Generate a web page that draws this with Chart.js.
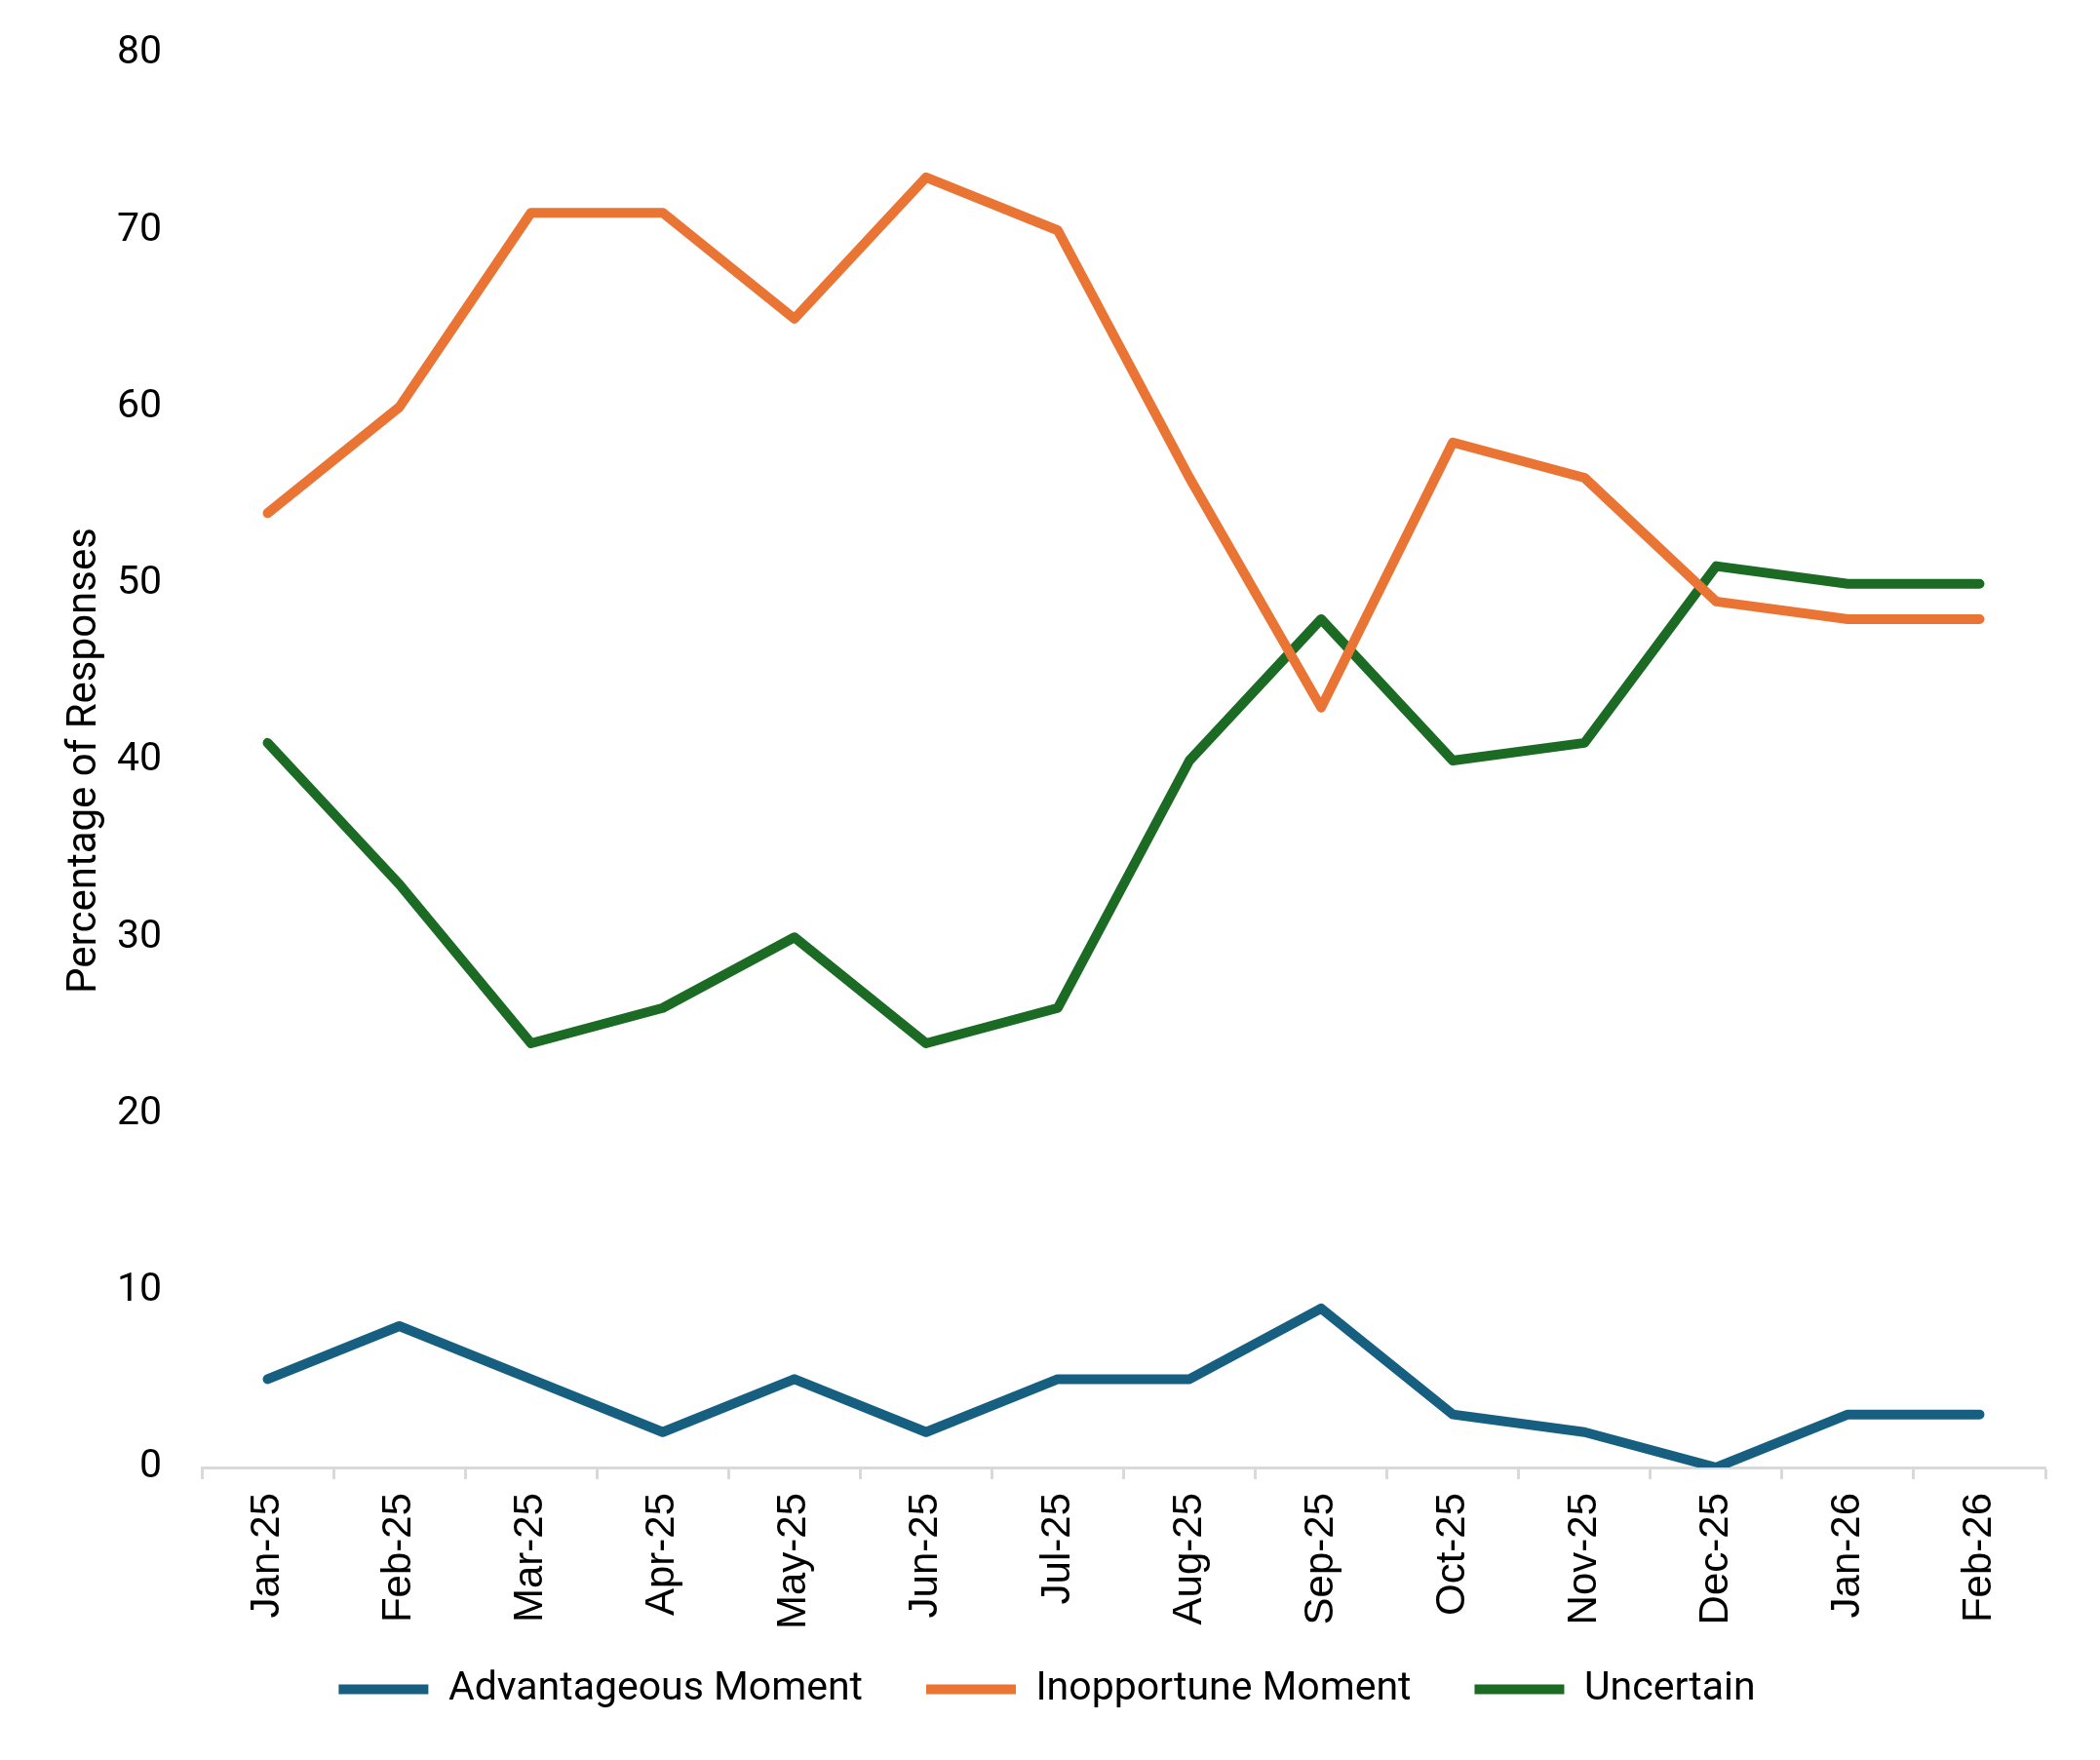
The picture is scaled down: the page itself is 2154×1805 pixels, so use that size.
<!DOCTYPE html>
<html>
<head>
<meta charset="utf-8">
<script src="https://cdn.jsdelivr.net/npm/chart.js@4.4.1/dist/chart.umd.min.js"></script>
<style>
    html, body { margin: 0; padding: 0; background: #ffffff; }
    #wrap { width: 2154px; height: 1805px; position: relative; }
</style>
</head>
<body>
<div id="wrap"><canvas id="sentimentChart"></canvas></div>
<script>
// Survey months
const months = ['Jan-25', 'Feb-25', 'Mar-25', 'Apr-25', 'May-25', 'Jun-25', 'Jul-25',
    'Aug-25', 'Sep-25', 'Oct-25', 'Nov-25', 'Dec-25', 'Jan-26', 'Feb-26'];

// Share of responses per answer (%)
const advantageous = [5, 8, 5, 2, 5, 2, 5, 5, 9, 3, 2, 0, 3, 3];
const inopportune = [54, 60, 71, 71, 65, 73, 70, 56, 43, 58, 56, 49, 48, 48];
const uncertain = [41, 33, 24, 26, 30, 24, 26, 40, 48, 40, 41, 51, 50, 50];

const seriesNames = ['Advantageous Moment', 'Inopportune Moment', 'Uncertain'];
const seriesColors = ['#175f81', '#e97434', '#1b6b25'];

const yTicks = { min: 0, max: 80, step: 10 };

const mainFont = 'Roboto, "Liberation Sans", sans-serif';
const labelFont = '"Liberation Sans", Arial, sans-serif';

function makeDataset(idx, values) {
    return {
        label: seriesNames[idx],
        data: values,
        borderColor: seriesColors[idx],
        backgroundColor: seriesColors[idx],
        borderWidth: 10,
        borderCapStyle: 'round',
        borderJoinStyle: 'round',
        pointRadius: 0,
        pointHoverRadius: 0,
        tension: 0,
        fill: false
    };
}

// Month labels hang below the x axis box; let them draw in full,
// and nudge the legend a little to the right like the original
const layoutTweaks = {
    id: 'layoutTweaks',
    afterLayout(chart) {
        chart.scales.x.bottom = chart.height;
        chart.legend.left += 25;
        chart.legend.right += 25;
    }
};

const ctx = document.getElementById('sentimentChart').getContext('2d');

new Chart(ctx, {
    type: 'line',
    data: {
        labels: months,
        datasets: [
            makeDataset(0, advantageous),
            makeDataset(1, inopportune),
            makeDataset(2, uncertain)
        ]
    },
    plugins: [layoutTweaks],
    options: {
        responsive: true,
        maintainAspectRatio: false,
        animation: false,
        layout: {
            padding: { top: 55, left: 0, right: 56, bottom: 42 }
        },
        plugins: {
            tooltip: { enabled: false },
            legend: {
                position: 'bottom',
                labels: {
                    color: '#000000',
                    font: { family: mainFont, size: 41 },
                    boxWidth: 92,
                    boxHeight: 10,
                    padding: 65,
                    useBorderRadius: true,
                    borderRadius: 5,
                    generateLabels: function(chart) {
                        return chart.data.datasets.map((ds, i) => ({
                            text: ds.label,
                            fillStyle: ds.borderColor,
                            strokeStyle: ds.borderColor,
                            lineWidth: 0,
                            fontColor: '#000000',
                            hidden: false,
                            datasetIndex: i
                        }));
                    }
                }
            }
        },
        scales: {
            x: {
                offset: true,
                grid: {
                    offset: true,
                    drawOnChartArea: false,
                    drawTicks: true,
                    tickLength: 12,
                    tickWidth: 3,
                    tickColor: '#d9d9d9'
                },
                border: { display: true, color: '#d9d9d9', width: 3 },
                ticks: {
                    color: '#000000',
                    font: { family: labelFont, size: 42 },
                    maxRotation: 90,
                    minRotation: 90,
                    padding: 14,
                    autoSkip: false
                },
                afterFit: function(scale) {
                    scale.height = 142;
                }
            },
            y: {
                min: yTicks.min,
                max: yTicks.max,
                grid: { display: false, drawTicks: true, tickLength: 30 },
                border: { display: false },
                ticks: {
                    stepSize: yTicks.step,
                    color: '#000000',
                    font: { family: mainFont, size: 41 },
                    padding: 11
                },
                title: {
                    display: true,
                    text: 'Percentage of Responses',
                    color: '#000000',
                    font: { family: mainFont, size: 42 },
                    padding: { top: 62, bottom: 0 }
                },
                afterFit: function(scale) {
                    scale.width = 207;
                }
            }
        }
    }
});
</script>
</body>
</html>
